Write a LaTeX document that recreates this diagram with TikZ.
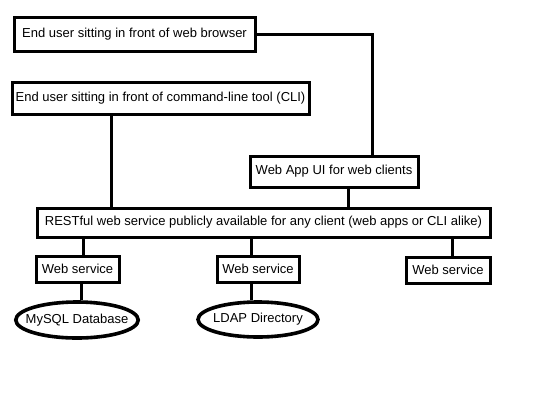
\documentclass[tikz,border=0pt]{standalone}
\usepackage{fontspec}
\setmainfont{Liberation Sans}
\usetikzlibrary{shapes.geometric}
\begin{document}
\begin{tikzpicture}[x=1pt,y=-1pt,
  box/.style={draw,line width=3pt,rectangle,inner sep=0pt,font=\fontsize{13}{15}\selectfont},
  oval/.style={draw,line width=3.6pt,ellipse,inner ysep=0pt,inner xsep=-8pt,font=\fontsize{13}{15}\selectfont},
  conn/.style={line width=3pt}]
\useasboundingbox[fill=white] (0,0) rectangle (540,405);
\node[box,minimum width=241pt,minimum height=34pt] (browser) at (134.5,34) {End user sitting in front of web browser};
\node[box,minimum width=297pt,minimum height=32pt] (cli) at (160.5,98) {End user sitting in front of command-line tool (CLI)};
\node[box,minimum width=168pt,minimum height=31pt] (webapp) at (334,171.5) {Web App UI for web clients};
\node[box,minimum width=453pt,minimum height=29pt] (rest) at (263.5,222.5) {RESTful web service publicly available for any client (web apps or CLI alike)};
\node[box,minimum width=83pt,minimum height=26pt] (ws1) at (77.5,269) {Web service};
\node[box,minimum width=82pt,minimum height=26pt] (ws2) at (258,269) {Web service};
\node[box,minimum width=84pt,minimum height=26pt] (ws3) at (448,270) {Web service};
\node[oval,minimum width=122pt,minimum height=36pt] (mysql) at (77,320) {MySQL Database};
\node[oval,minimum width=120pt,minimum height=35pt] (ldap) at (258,319.5) {LDAP Directory};
\draw[conn] (browser.east) -| ([xshift=38pt]webapp.north);
\draw[conn] ([xshift=-49.5pt]cli.south) -- ([xshift=-49.5pt]cli.south |- rest.north);
\draw[conn] ([xshift=14pt]webapp.south) -- ([xshift=14pt]webapp.south |- rest.north);
\draw[conn] ([xshift=5.5pt]ws1.north |- rest.south) -- ([xshift=5.5pt]ws1.north);
\draw[conn] ([xshift=-7pt]ws2.north |- rest.south) -- ([xshift=-7pt]ws2.north);
\draw[conn] ([xshift=4pt]ws3.north |- rest.south) -- ([xshift=4pt]ws3.north);
\draw[conn] ([xshift=3.5pt]ws1.south) -- ([xshift=3.5pt]ws1.south |- mysql.north);
\draw[conn] ([xshift=-7pt]ws2.south) -- ([xshift=-7pt]ws2.south |- ldap.north);
\end{tikzpicture}
\end{document}
